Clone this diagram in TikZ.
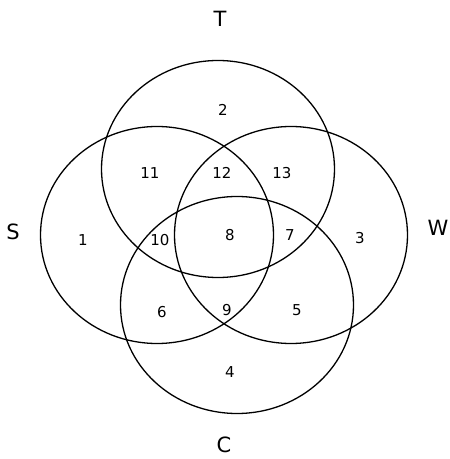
\documentclass[tikz,border=0pt]{standalone}
\usepackage{fontspec}
\setmainfont{DejaVu Sans}
\usetikzlibrary{shapes.geometric,positioning}

\tikzset{
  venn/.style={draw, ellipse, line width=1.3pt, minimum width=233pt, minimum height=217pt, inner sep=0pt},
  region/.style={font=\fontsize{15}{15}\selectfont, inner sep=0pt},
  setlabel/.style={font=\fontsize{21}{21}\selectfont, inner sep=0pt}
}

\begin{document}
\begin{tikzpicture}[x=1pt, y=1pt]
  \useasboundingbox (0,0) rectangle (450,459);

  % Sets
  \node[venn] (setT) at (218,290) {};
  \node[venn] (setS) at (157,224) {};
  \node[venn] (setW) at (291,224) {};
  \node[venn] (setC) at (237,154) {};

  % Set names
  \node[setlabel] (labT) at (220,440) {T};
  \node[setlabel] (labS) at (13,227) {S};
  \node[setlabel] (labW) at (438,231) {W};
  \node[setlabel] (labC) at (224,14) {C};

  % Regions
  \node[region] (r1) at (83,219) {1};
  \node[region] (r2) at (223,349) {2};
  \node[region] (r3) at (360,221) {3};
  \node[region] (r4) at (230,87) {4};
  \node[region] (r5) at (297,149) {5};
  \node[region] (r6) at (162,147) {6};
  \node[region] (r7) at (290,224) {7};
  \node[region] (r8) at (230,224) {8};
  \node[region] (r9) at (227,149) {9};
  \node[region] (r10) at (160,219) {10};
  \node[region] (r11) at (150,286) {11};
  \node[region] (r12) at (222,286) {12};
  \node[region] (r13) at (282,286) {13};
\end{tikzpicture}
\end{document}
